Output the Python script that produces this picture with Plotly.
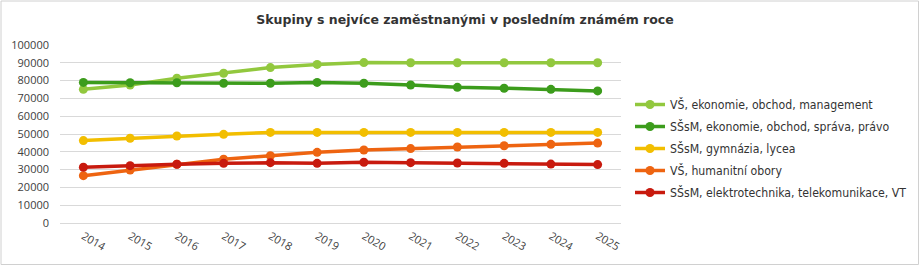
import plotly.graph_objects as go

years = ["2014", "2015", "2016", "2017", "2018", "2019", "2020", "2021", "2022", "2023", "2024", "2025"]
names = [
    "VŠ, ekonomie, obchod, management",
    "SŠsM, ekonomie, obchod, správa, právo",
    "SŠsM, gymnázia, lycea",
    "VŠ, humanitní obory",
    "SŠsM, elektrotechnika, telekomunikace, VT",
]
vs_ekonomie = [75100, 77500, 81300, 84100, 87300, 89100, 90100, 90000, 90000, 90000, 90000, 90000]
ss_ekonomie = [79000, 78800, 78800, 78500, 78500, 79000, 78500, 77500, 76200, 75700, 75100, 74200]
ss_gymnazia = [46300, 47600, 48900, 49800, 50900, 50900, 50900, 50900, 50900, 50900, 50900, 50900]
vs_humanitni = [26600, 29800, 33000, 35800, 37800, 39700, 41000, 41800, 42700, 43400, 44200, 44900]
ss_elektro = [31300, 32200, 33000, 33500, 33900, 33500, 34100, 33900, 33700, 33500, 33100, 32800]
series = [vs_ekonomie, ss_ekonomie, ss_gymnazia, vs_humanitni, ss_elektro]
colors = ["#92C83E", "#3C9C1C", "#F2BE00", "#EE6411", "#C81A0E"]
y_ticks = [0, 10000, 20000, 30000, 40000, 50000, 60000, 70000, 80000, 90000, 100000]

fig = go.Figure()
for i, (n, s, c) in enumerate(zip(names, series, colors)):
    fig.add_trace(go.Scatter(
        x=years, y=s, name=n, mode="lines+markers",
        line=dict(color=c, width=3.5),
        marker=dict(color=c, size=9),
        legendgroup=str(i),
    ))

W, H = 920, 266
L, R, T, B = 60, 299, 45, 43
pw, ph = W - L - R, H - T - B

fig.update_layout(
    width=W, height=H,
    margin=dict(l=L, r=R, t=T, b=B, autoexpand=False),
    paper_bgcolor="white", plot_bgcolor="white",
    font=dict(family="DejaVu Sans Condensed, sans-serif", size=11, color="#404040"),
    title=dict(text="<b>Skupiny s nejvíce zaměstnanými v posledním známém roce</b>",
               x=465 / W, xanchor="center", y=1 - 20 / H, yanchor="middle",
               font=dict(family="DejaVu Sans, sans-serif", size=12.5, color="#333333")),
    showlegend=True,
    legend=dict(x=(630 - L) / pw, xanchor="left", y=1 - (90 - T) / ph, yanchor="top",
                itemwidth=30,
                font=dict(family="DejaVu Sans Condensed, sans-serif", size=12.2, color="#333333"),
                tracegroupgap=3, bgcolor="rgba(0,0,0,0)"),
    xaxis=dict(type="category", range=[-0.5, len(years) - 0.5], tickangle=30,
               showgrid=False, showline=False, automargin=False, ticks="",
               ticklabelstandoff=4,
               tickfont=dict(family="Open Sans, sans-serif", size=11, color="#404040")),
    yaxis=dict(range=[0, 100000], tickvals=y_ticks, ticktext=[str(v) for v in y_ticks],
               showgrid=True, gridcolor="#D9D9D9", gridwidth=1.2, zeroline=True, automargin=False,
               zerolinecolor="#D9D9D9", zerolinewidth=1.2, showline=False, ticks="",
               ticklabelstandoff=10,
               tickfont=dict(family="Open Sans, sans-serif", size=11, color="#404040")),
    shapes=[dict(type="rect", xref="paper", yref="paper",
                 x0=(1 - L) / pw, x1=(W - 1.5 - L) / pw,
                 y0=-(H - 1.5 - T - ph) / ph, y1=1 + (T - 1) / ph,
                 line=dict(color="#D0D0D0", width=1), layer="below")],
)
fig.write_html("out.html")
